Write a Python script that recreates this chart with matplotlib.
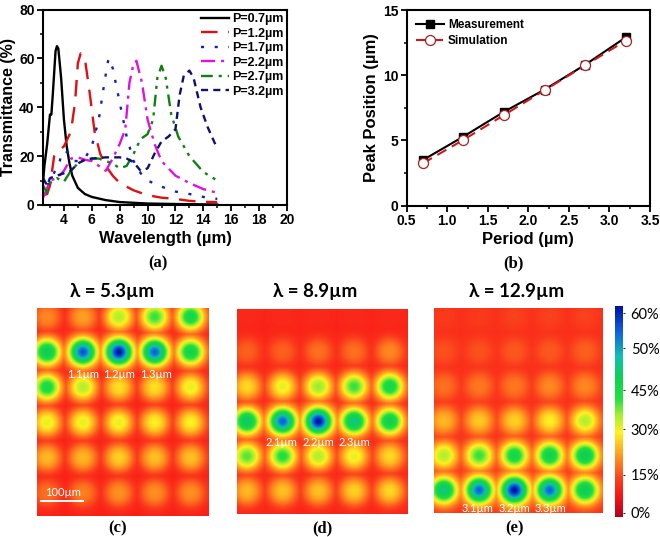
import numpy as np
import matplotlib
matplotlib.use("Agg")
import matplotlib.pyplot as plt
from matplotlib.colors import LinearSegmentedColormap
from matplotlib.ticker import MultipleLocator

W, H = 660, 537

# ----------------------------
# Data
# ----------------------------
x07 = [2.5, 2.6, 2.8, 3.0, 3.1, 3.2, 3.4, 3.5, 3.6, 3.8, 4.0, 4.2, 4.4, 4.6, 5, 5.5, 6, 7, 8, 9, 10, 12, 15]
y07 = [9, 16, 25, 37, 37, 45, 63, 65, 64, 52, 35, 24, 17, 12, 7, 4.5, 3.3, 2, 1.2, 0.9, 0.6, 0.4, 0.2]
x12 = [2.5, 2.8, 3, 3.3, 3.6, 4, 4.5, 4.8, 5, 5.2, 5.5, 5.8, 6.2, 6.6, 7, 7.5, 8, 9, 10, 11, 12, 13, 14, 15]
y12 = [4, 4.5, 8, 20, 22, 24, 30, 42, 58, 62, 60, 48, 30, 21, 16, 12, 9, 6, 4, 3, 2.5, 1.7, 1.3, 1.2]
x17 = [2.5, 2.7, 3, 3.5, 3.7, 3.9, 4.3, 4.7, 5, 5.5, 6, 6.5, 6.9, 7.2, 7.5, 8, 8.5, 9, 9.5, 10, 11, 12, 13, 14, 15]
y17 = [13, 8, 9, 16, 18, 22, 21.5, 18, 18, 19, 24, 35, 50, 60, 56, 42, 28, 18, 13, 10, 7.5, 5.5, 4.5, 3.3, 2.5]
x22 = [2.5, 2.8, 3, 3.5, 4, 4.5, 5, 5.5, 6, 6.5, 7, 7.5, 8, 8.4, 8.7, 9, 9.2, 9.6, 10, 10.5, 11, 12, 13, 14, 15]
y22 = [3, 7, 10, 11, 14, 19, 19.5, 18.5, 18, 16, 14, 19, 25, 31, 50, 58, 59, 50, 35, 25, 18, 12, 9, 6.5, 5]
x27 = [2.5, 2.8, 3, 3.5, 4, 4.5, 5, 5.5, 6, 6.5, 7, 7.5, 8, 8.5, 9, 9.5, 10, 10.4, 10.7, 11, 11.3, 11.7, 12.2, 13, 14, 15]
y27 = [8, 5, 9, 11, 9.5, 14, 17, 18.5, 19, 19, 18, 17, 15, 16, 21, 27, 29, 35, 52, 57, 52, 37, 28, 20, 13.5, 10]
x32 = [2.5, 2.8, 3, 3.5, 4, 4.5, 5, 5.5, 6, 7, 8, 8.5, 9, 9.5, 10, 10.5, 11, 11.5, 12, 12.3, 12.6, 13, 13.3, 13.8, 14.3, 15]
y32 = [11, 8, 11, 12, 13, 14, 17, 18.5, 19, 19.5, 19.5, 19, 17.5, 14, 15, 21, 26, 28, 31, 45, 53, 55, 52, 40, 32, 23]

period = [0.7, 1.2, 1.7, 2.2, 2.7, 3.2]
measurement = [3.5, 5.3, 7.2, 8.9, 10.8, 12.9]
simulation = [3.25, 5.05, 6.95, 8.85, 10.75, 12.65]

# spot strength on the colour bar scale (0-1), one row per line of spots
spots_c = [[.27, .30, .47, .55, .62],
           [.68, .90, 1.0, .88, .64],
           [.60, .47, .38, .38, .42],
           [.42, .42, .42, .40, .40],
           [.33, .33, .36, .34, .34],
           [.24, .26, .28, .28, .28]]
spots_d = [[.14, .14, .14, .14, .14],
           [.22, .22, .24, .24, .27],
           [.37, .42, .49, .55, .62],
           [.70, .88, 1.0, .72, .66],
           [.53, .57, .47, .42, .37],
           [.33, .34, .34, .36, .37]]
spots_e = [[.17, .17, .18, .18, .18],
           [.20, .20, .21, .21, .22],
           [.24, .25, .25, .27, .27],
           [.33, .35, .36, .40, .47],
           [.47, .55, .62, .65, .68],
           [.72, .88, 1.0, .88, .68]]

cbar_pos = [.02, .20, .415, .60, .80, .965]
cbar_labels = ["0%", "15%", "30%", "45%", "50%", "60%"]

# ----------------------------
# Helpers
# ----------------------------
bold = ["Liberation Sans"]


def add_ax(x0, y0, x1, y1):
    return fig.add_axes([x0 / W, 1 - y1 / H, (x1 - x0) / W, (y1 - y0) / H])


def put(x, y, s, **kw):
    fig.text(x / W, 1 - y / H, s, ha=kw.pop("ha", "center"), va="center", **kw)


def spot_map(values, bg):
    values = np.array(values)
    xs = np.linspace(-0.27, 4.5, 240)
    ys = np.linspace(-0.24, 5.65, 300)
    xx, yy = np.meshgrid(xs, ys)
    field = np.full(xx.shape, bg)
    for r in range(values.shape[0]):
        for c in range(values.shape[1]):
            v = values[r, c]
            d = np.hypot(xx - c, yy - r)
            # weak spots are flatter on top than the strong ones
            field = np.maximum(field, bg + (v - bg) * np.exp(-(d / (0.44 - 0.04 * v)) ** (2.8 - v)))
    return field, [xs[0], xs[-1], ys[-1], ys[0]]


def style_axes(ax):
    for s in ax.spines.values():
        s.set_linewidth(1.5)
    ax.tick_params(which="major", direction="out", length=4, width=1.3, pad=2)
    ax.tick_params(which="minor", direction="out", length=2.5, width=1.1)
    for t in ax.get_xticklabels() + ax.get_yticklabels():
        t.set_fontfamily(bold)
        t.set_fontweight("bold")
        t.set_fontsize(10)


fig = plt.figure(figsize=(W / 100, H / 100), dpi=100)

# ----------------------------
# (a) spectra
# ----------------------------
ax = add_ax(43, 9.5, 287, 205)
ax.plot(x07, y07, color="black", lw=1.7, label="P=0.7µm")
ax.plot(x12, y12, color="#e01010", lw=1.7, dashes=(7, 4.5), label="P=1.2µm")
ax.plot(x17, y17, color="#1020c0", lw=1.7, dashes=(1.3, 4.5), label="P=1.7µm")
ax.plot(x22, y22, color="#e010e0", lw=1.7, dashes=(6, 2.5, 1.3, 2.5), label="P=2.2µm")
ax.plot(x27, y27, color="#108010", lw=1.7, dashes=(5, 2.5, 1.3, 2.5, 1.3, 2.5), label="P=2.7µm")
ax.plot(x32, y32, color="#101070", lw=1.7, dashes=(3, 2.2), label="P=3.2µm")
ax.set_xlim(2.5, 20)
ax.set_ylim(0, 80)
ax.set_xticks(range(4, 21, 2))
ax.set_yticks(range(0, 81, 20))
ax.xaxis.set_minor_locator(MultipleLocator(1))
ax.yaxis.set_minor_locator(MultipleLocator(10))
style_axes(ax)
ax.set_xlabel("Wavelength (µm)", family=bold, weight="bold", fontsize=12, labelpad=3)
ax.set_ylabel("Transmittance (%)", family=bold, weight="bold", fontsize=11.5)
ax.yaxis.set_label_coords(-0.11, 0.5)
ax.legend(loc="upper right", frameon=False, handlelength=2.25, handletextpad=0.2, labelspacing=0.2,
          borderaxespad=0.1, borderpad=0.2, prop={"family": bold, "weight": "bold", "size": 9})

# ----------------------------
# (b) peak position
# ----------------------------
ax = add_ax(406.7, 10, 650, 205.7)
ax.plot(period, measurement, color="black", lw=1.5, marker="s", ms=5.8, label="Measurement")
ax.plot(period, simulation, color="#d01818", lw=1.5, dashes=(5, 3), marker="o", ms=7.2,
        mfc="white", mec="#a82020", mew=0.9, label="Simulation")
ax.set_xlim(0.5, 3.5)
ax.set_ylim(0, 15)
ax.set_xticks(np.arange(0.5, 3.6, 0.5))
ax.set_yticks([0, 5, 10, 15])
ax.xaxis.set_minor_locator(MultipleLocator(0.25))
ax.yaxis.set_minor_locator(MultipleLocator(2.5))
style_axes(ax)
ax.set_xlabel("Period (µm)", family=bold, weight="bold", fontsize=12, labelpad=3)
ax.set_ylabel("Peak Position (µm)", family=bold, weight="bold", fontsize=12, labelpad=3)
ax.legend(loc="upper left", frameon=False, handlelength=2.4, handletextpad=0.3, labelspacing=0.3,
          borderaxespad=0.4, prop={"family": bold, "weight": "bold", "size": 8.5})

# ----------------------------
# (c)(d)(e) maps
# ----------------------------
cmap = LinearSegmentedColormap.from_list("peak", [
    (0.0, "#b00020"), (0.1, "#fa1414"), (0.17, "#fa3a1c"), (0.28, "#ff9020"), (0.40, "#fff020"),
    (0.48, "#a8f030"), (0.56, "#20e040"), (0.66, "#10d050"), (0.76, "#10c0b0"),
    (0.88, "#1060e0"), (1.0, "#0010a0")])

maps = [(spots_c, 0.12, (37, 308, 209, 516)),
        (spots_d, 0.13, (237, 308.5, 408, 514)),
        (spots_e, 0.15, (434, 308, 603, 513))]
for values, bg, box in maps:
    field, extent = spot_map(values, bg)
    ax = add_ax(box[0], box[1], box[2], box[3])
    im = ax.imshow(field, cmap=cmap, vmin=0, vmax=1, extent=extent, aspect="auto")
    ax.axis("off")

cax = add_ax(615, 306, 623, 517)
cb = fig.colorbar(im, cax=cax, ticks=cbar_pos)
cb.ax.set_yticklabels(cbar_labels, family="Lato", fontsize=10.5)
cb.ax.tick_params(length=1.5, width=0.6, pad=4)
cb.outline.set_visible(False)

# ----------------------------
# Text on the figure
# ----------------------------
for x, s in [(112, "λ = 5.3µm"), (315, "λ = 8.9µm"), (517, "λ = 12.9µm")]:
    put(x, 292, s, family="Lato", weight="bold", fontsize=13.5)

for x, y, s in [(158, 263, "(a)"), (513, 263, "(b)"), (118, 528, "(c)"), (322, 528, "(d)"), (514, 528, "(e)")]:
    put(x, y, s, family="Liberation Serif", weight="bold", fontsize=12)

for x, y, s in [(83, 375, "1.1µm"), (119, 375, "1.2µm"), (156, 375, "1.3µm"),
                (281, 443, "2.1µm"), (318, 443, "2.2µm"), (354, 443, "2.3µm"),
                (478, 509, "3.1µm"), (514, 509, "3.2µm"), (550, 509, "3.3µm"),
                (63, 492, "100µm")]:
    put(x, y, s, family="Lato", color="white", fontsize=8)

fig.add_artist(plt.Line2D([41 / W, 83 / W], [1 - 501 / H, 1 - 501 / H], color="white", lw=1.4))

fig.savefig("out.png", dpi=100)
